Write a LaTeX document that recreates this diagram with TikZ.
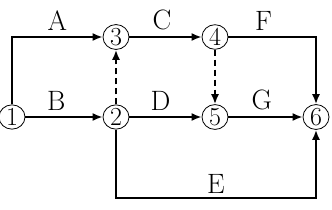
\documentclass[tikz,border=0pt]{standalone}
\usepackage{fontspec}
\usepackage{tikz}
\usetikzlibrary{arrows.meta,positioning,shapes.geometric}

\begin{document}
\begin{tikzpicture}[
  x=1pt, y=-1pt,
  event/.style={draw, ellipse, line width=0.8pt, minimum width=26pt, minimum height=24pt, inner sep=0pt, font=\fontsize{26}{26}\selectfont},
  lbl/.style={above=6pt, inner sep=0pt, font=\fontsize{28}{28}\selectfont},
  arrow/.style={-{Latex[length=10pt, width=8pt]}, line width=1.8pt},
  dummy/.style={arrow, dash pattern=on 6pt off 4pt}
]
\useasboundingbox (0,0) rectangle (332,209);
\node[event] (n1) at (12,117) {1};
\node[event] (n2) at (116,117) {2};
\node[event] (n3) at (116,37) {3};
\node[event] (n4) at (215,37) {4};
\node[event] (n5) at (215,117) {5};
\node[event] (n6) at (316,117) {6};
\coordinate (elow) at (216,198);
\draw[arrow] (n1) |- node[lbl, pos=0.75]{A} (n3);
\draw[arrow] (n1) -- node[lbl, pos=0.4]{B} (n2);
\draw[arrow] (n3) -- node[lbl, pos=0.45]{C} (n4);
\draw[arrow] (n2) -- node[lbl, pos=0.43]{D} (n5);
\draw[arrow] (n4) -| node[lbl, pos=0.2]{F} (n6);
\draw[arrow] (n5) -- node[lbl, pos=0.45]{G} (n6);
\draw[arrow] (n2) |- (elow) node[lbl, above=4pt]{E} -| (n6);
\draw[dummy] (n2) -- (n3);
\draw[dummy] (n4) -- (n5);
\end{tikzpicture}
\end{document}
